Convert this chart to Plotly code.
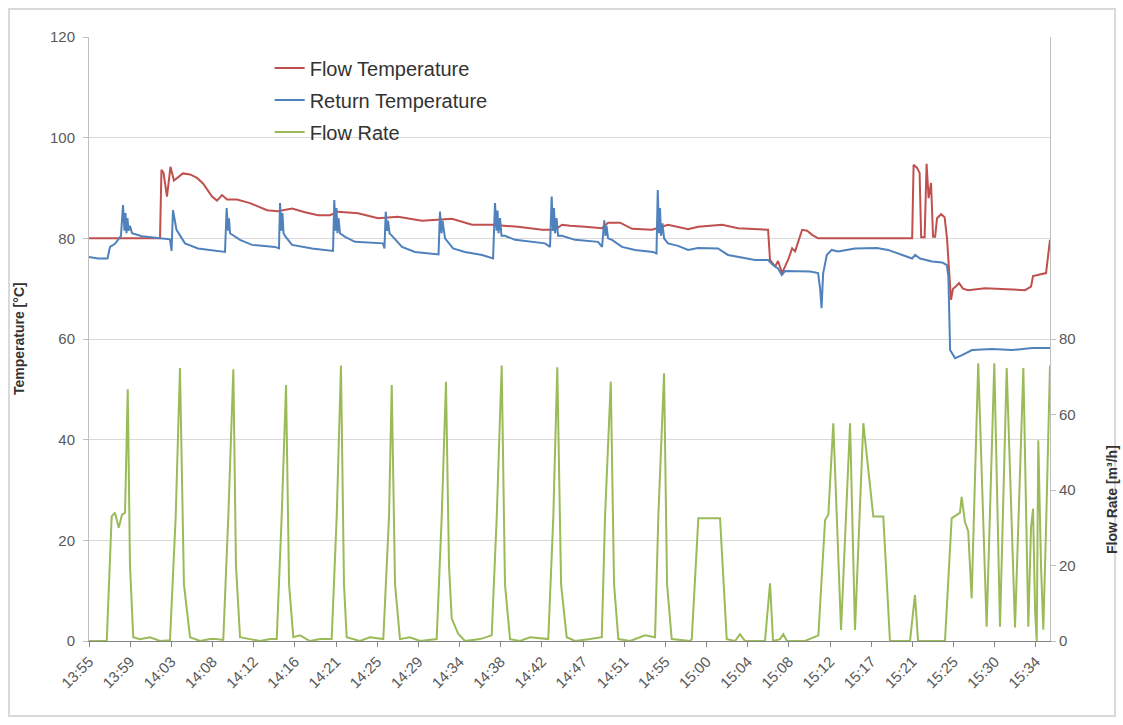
import plotly.graph_objects as go

# ---------------- data ----------------
tick_labels = ["13:55", "13:59", "14:03", "14:08", "14:12", "14:16", "14:21", "14:25",
               "14:29", "14:34", "14:38", "14:42", "14:47", "14:51", "14:55", "15:00",
               "15:04", "15:08", "15:12", "15:17", "15:21", "15:25", "15:30", "15:34"]
tick_step_min = 4.25  # minutes between labelled ticks

# minutes after 13:55
flow_temp_time = [0, 7.33, 7.48, 7.69, 8.05, 8.41, 8.77, 9.08, 9.7, 10.43,
                  11.15, 11.77, 12.28, 12.7, 13.21, 13.73, 14.25, 15.28, 16.62, 18.38,
                  19.51, 20.96, 22.3, 23.64, 24.88, 25.71, 27.77, 29.84, 31.9, 34.38,
                  37.47, 39.54, 41.6, 44.29, 46.77, 48.11, 48.83, 49.66, 51.2, 52.96,
                  53.58, 54.82, 56.06, 58.12, 59.78, 61.84, 62.87, 65.35, 67.0, 70.1,
                  70.3, 70.82, 71.13, 71.54, 72.16, 72.58, 72.89, 73.61, 74.13, 74.64,
                  75.26, 84.97, 85.12, 85.48, 85.74, 85.9, 86.26, 86.46, 86.67, 86.92,
                  87.13, 87.34, 87.54, 87.96, 88.32, 88.57, 88.98, 89.19, 89.5, 89.81,
                  90.22, 90.74, 92.49, 94.56, 96.62, 97.24, 97.45, 98.79, 99.2]
flow_temp = [80.0, 80.0, 93.6, 93.0, 88.3, 94.2, 91.5, 92.0, 92.9, 92.7,
             92.0, 90.9, 89.5, 88.3, 87.5, 88.6, 87.7, 87.7, 87.0, 85.6,
             85.4, 85.9, 85.2, 84.6, 84.6, 85.3, 85.0, 84.0, 84.3, 83.5,
             83.9, 82.7, 82.7, 82.3, 81.7, 81.7, 82.7, 82.5, 82.3, 82.0,
             83.1, 83.1, 81.9, 81.7, 82.7, 81.8, 82.3, 82.7, 82.0, 81.7,
             75.7, 74.4, 75.5, 73.1, 75.7, 78.0, 77.4, 81.7, 81.5, 80.7,
             80.0, 80.0, 94.6, 94.0, 93.0, 80.2, 80.2, 94.8, 88.0, 91.0,
             80.3, 80.3, 84.0, 84.8, 84.2, 80.0, 67.8, 70.0, 70.5, 71.1,
             70.0, 69.7, 70.1, 69.9, 69.7, 70.4, 72.5, 73.1, 79.7]

return_temp_time = [0, 0.93, 1.91, 2.17, 2.68, 2.99, 3.3, 3.51, 3.66, 3.77,
                    3.87, 3.97, 4.08, 4.23, 4.44, 5.47, 7.43, 8.36, 8.52, 8.67,
                    9.03, 9.91, 11.25, 12.7, 14.04, 14.21, 14.35, 14.45, 14.56, 15.59,
                    16.83, 19.2, 19.61, 19.72, 19.87, 19.97, 20.08, 20.23, 20.96, 23.02,
                    24.67, 25.19, 25.32, 25.45, 25.55, 25.65, 25.76, 25.91, 26.43, 27.46,
                    30.35, 30.5, 30.63, 30.76, 30.87, 31.02, 31.28, 32.31, 33.65, 35.72,
                    36.08, 36.23, 36.39, 36.49, 36.75, 37.58, 38.81, 40.57, 41.71, 41.91,
                    42.07, 42.17, 42.27, 42.43, 42.58, 42.94, 43.98, 47.07, 47.59, 47.76,
                    47.9, 48.0, 48.11, 48.26, 48.42, 48.83, 49.66, 50.17, 52.55, 52.96,
                    53.19, 53.32, 53.42, 53.58, 53.99, 55.02, 56.36, 58.22, 58.58, 58.71,
                    58.84, 58.94, 59.05, 59.2, 59.36, 59.77, 60.8, 61.84, 62.87, 64.93,
                    65.96, 67.72, 68.75, 70.1, 70.61, 71.13, 71.51, 71.85, 74.44, 75.26,
                    75.47, 75.62, 75.78, 76.16, 76.67, 77.32, 79.07, 81.34, 82.48, 84.24,
                    84.97, 85.28, 85.79, 87.03, 88.06, 88.55, 88.71, 88.89, 89.4, 90.12,
                    91.15, 93.22, 95.28, 97.35, 99.2]
return_temp = [76.3, 76.0, 76.0, 78.3, 78.9, 79.8, 80.5, 86.6, 81.5, 85.0,
               81.0, 84.0, 81.5, 82.5, 81.0, 80.4, 80.0, 79.8, 77.5, 85.6,
               81.7, 79.0, 78.0, 77.7, 77.3, 86.0, 81.5, 84.0, 81.0, 79.7,
               78.7, 78.3, 78.0, 87.0, 81.5, 85.0, 81.0, 80.5, 78.7, 78.0,
               77.7, 77.5, 87.6, 81.5, 86.0, 81.0, 84.0, 81.0, 80.3, 79.3,
               79.0, 78.0, 85.3, 81.5, 83.5, 81.0, 80.5, 78.3, 77.3, 77.0,
               76.8, 85.3, 81.0, 83.5, 80.0, 78.0, 77.3, 76.7, 76.0, 87.0,
               81.5, 85.5, 81.0, 84.0, 80.5, 80.5, 79.7, 79.0, 78.3, 88.3,
               81.5, 86.0, 81.0, 84.0, 80.5, 80.5, 80.0, 79.7, 79.3, 78.3,
               83.6, 80.5, 82.5, 80.0, 79.7, 78.3, 77.7, 77.3, 77.0, 89.6,
               81.0, 86.0, 80.5, 83.0, 80.0, 79.0, 78.5, 77.7, 78.1, 78.0,
               76.7, 76.0, 75.7, 75.7, 74.7, 74.0, 72.7, 73.5, 73.4, 73.1,
               70.0, 66.1, 73.0, 76.7, 77.7, 77.4, 78.0, 78.1, 77.7, 76.5,
               76.0, 76.7, 76.0, 75.4, 75.2, 74.7, 72.4, 57.8, 56.2, 56.8,
               57.8, 58.0, 57.8, 58.2, 58.2]

flow_rate_time = [0, 1.83, 2.34, 2.68, 3.07, 3.41, 3.72, 4.0, 4.23, 4.57,
                  5.27, 6.3, 7.33, 8.36, 8.95, 9.39, 9.8, 10.43, 11.46, 12.49,
                  13.11, 13.86, 14.38, 14.9, 15.17, 15.59, 16.62, 17.65, 18.68, 19.38,
                  19.89, 20.34, 20.65, 21.09, 21.78, 22.81, 23.85, 25.05, 25.57, 26.01,
                  26.32, 26.6, 27.97, 29.0, 30.38, 30.97, 31.25, 31.59, 32.1, 33.14,
                  34.17, 35.89, 36.41, 36.85, 37.16, 37.44, 38.09, 38.81, 40.36, 41.57,
                  42.09, 42.6, 42.94, 43.46, 44.49, 45.52, 47.41, 47.93, 48.34, 48.73,
                  49.31, 50.17, 51.72, 52.93, 53.27, 53.86, 54.2, 54.64, 55.85, 57.4,
                  58.43, 58.77, 59.36, 59.67, 60.15, 62.04, 62.22, 62.9, 65.14, 65.83,
                  66.69, 67.2, 67.72, 69.78, 70.3, 70.61, 71.33, 71.67, 72.05, 73.91,
                  75.29, 75.98, 76.32, 76.83, 77.63, 78.56, 79.07, 79.93, 80.96, 81.99,
                  82.68, 84.75, 85.26, 85.58, 88.36, 89.05, 89.91, 90.08, 90.42, 90.76,
                  91.11, 91.79, 92.66, 93.45, 94.04, 94.73, 95.59, 96.45, 96.96, 97.24,
                  97.45, 97.66, 97.83, 97.99, 98.27, 98.51, 98.79, 99.2]
flow_rate = [0, 0, 33, 34, 30, 33.5, 34, 66.7, 20, 1,
             0.5, 1, 0, 0.2, 33, 72.3, 15, 1, 0, 0.5,
             0.5, 0.3, 33, 72, 20, 1, 0.5, 0, 0.5, 0.5,
             33, 67.8, 15, 1, 1.5, 0, 0.5, 0.5, 33, 73,
             15, 1, 0, 1, 0.5, 33, 67.8, 15, 0.5, 1,
             0, 0.5, 33, 68.7, 20, 6, 2, 0, 0.5, 1.5,
             33, 73, 15, 0.5, 0, 1, 0.5, 33, 72.5, 15,
             1, 0, 0.5, 1, 33, 68.7, 15, 0.5, 0, 1.5,
             1, 33, 70.9, 15, 0.5, 0, 0.5, 32.5, 32.5, 0.5,
             0, 1.8, 0, 0, 15.3, 0, 0.5, 1.8, 0, 0,
             1.5, 32, 33.5, 57.7, 2.9, 57.7, 2.9, 57.7, 33, 33,
             0, 0, 12.2, 0, 0, 32.5, 34, 38.2, 31.6, 29,
             11.3, 73.6, 3.8, 73.6, 3.8, 72.3, 3.6, 72.3, 3.8, 30,
             35, 8, 0, 53.2, 20, 3, 30, 73]

assert len(flow_temp_time) == len(flow_temp)
assert len(return_temp_time) == len(return_temp)
assert len(flow_rate_time) == len(flow_rate)

temp_ticks = [0, 20, 40, 60, 80, 100, 120]
rate_ticks = [0, 20, 40, 60, 80]

# ---------------- figure ----------------
RED, BLUE, GREEN = "#C0504D", "#4F81BD", "#9BBB59"
GREY_TXT = "#595959"

fig = go.Figure()
fig.add_trace(go.Scatter(x=flow_temp_time, y=flow_temp, mode="lines", name="Flow Temperature",
                         line=dict(color=RED, width=2), legendgroup="a"))
fig.add_trace(go.Scatter(x=return_temp_time, y=return_temp, mode="lines", name="Return Temperature",
                         line=dict(color=BLUE, width=2), legendgroup="b"))
fig.add_trace(go.Scatter(x=flow_rate_time, y=flow_rate, mode="lines", name="Flow Rate",
                         line=dict(color=GREEN, width=2), yaxis="y2", legendgroup="c"))

tick_vals = [i * tick_step_min for i in range(len(tick_labels))]

fig.update_layout(
    width=1123, height=725,
    margin=dict(l=89, r=73, t=37, b=84),
    paper_bgcolor="white", plot_bgcolor="white",
    font=dict(family="Liberation Sans, Arial, sans-serif", color=GREY_TXT),
    xaxis=dict(range=[0, 99.2], tickmode="array", tickvals=tick_vals, ticktext=tick_labels,
               tickangle=-45, ticks="outside", ticklen=5, tickcolor="#868686",
               showline=True, linecolor="#868686", linewidth=1, showgrid=False, zeroline=False,
               tickfont=dict(size=15, color=GREY_TXT)),
    yaxis=dict(range=[0, 120], tickmode="array", tickvals=temp_ticks, showgrid=True,
               gridcolor="#D9D9D9", gridwidth=1, showline=True, linecolor="#BFBFBF",
               ticks="outside", ticklen=5, tickcolor="#BFBFBF", zeroline=False,
               ticklabelstandoff=5,
               tickfont=dict(size=15, color=GREY_TXT)),
    yaxis2=dict(range=[0, 160], tickmode="array", tickvals=rate_ticks, overlaying="y",
                side="right", showgrid=False, showline=True, linecolor="#BFBFBF",
                ticks="outside", ticklen=5, tickcolor="#BFBFBF", zeroline=False,
                tickfont=dict(size=15, color=GREY_TXT)),
    legend=dict(x=0.188, y=0.981, xanchor="left", yanchor="top", bgcolor="rgba(0,0,0,0)",
                font=dict(size=20, color="#333333"), tracegroupgap=3),
    showlegend=True,
)

fig.add_annotation(text="<b>Temperature [°C]</b>", xref="paper", yref="paper",
                   x=-0.0728, y=0.5, xanchor="center", yanchor="middle",
                   textangle=-90, showarrow=False,
                   font=dict(size=14, color="#333333"))
fig.add_annotation(text="<b>Flow Rate [m³/h]</b>", xref="paper", yref="paper",
                   x=1.0645, y=0.235, xanchor="center", yanchor="middle",
                   textangle=-90, showarrow=False,
                   font=dict(size=14, color="#333333"))

fig.add_shape(type="rect", xref="paper", yref="paper",
              x0=-0.0832, x1=1.0677, y0=-0.1242, y1=1.0464,
              line=dict(color="#D9D9D9", width=2), fillcolor="rgba(0,0,0,0)", layer="below")

fig.write_html("out.html",
               config={"displayModeBar": False},
               post_script="document.body.style.margin='0';document.body.style.overflow='hidden';")
